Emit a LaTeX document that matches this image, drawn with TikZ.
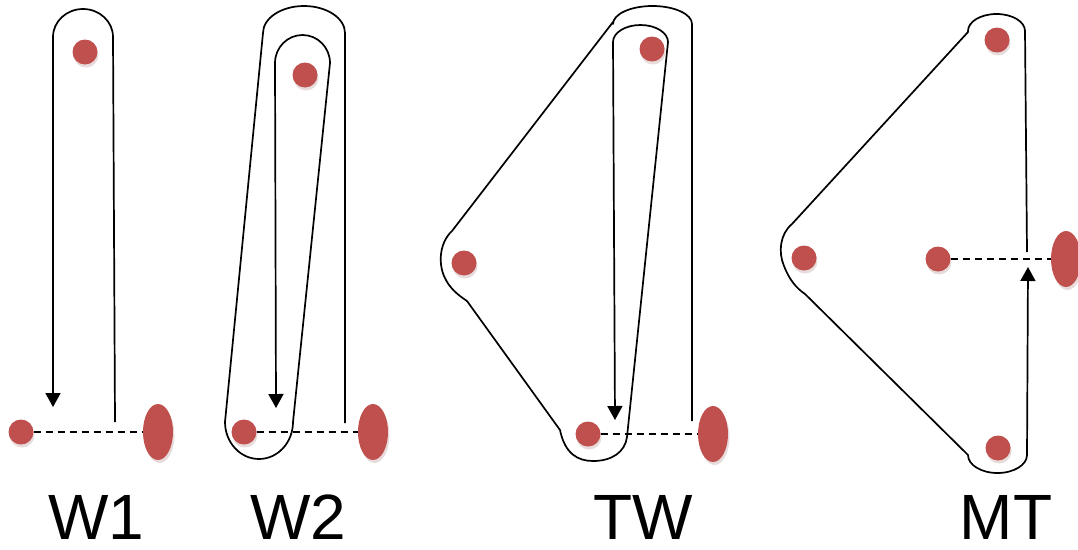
\documentclass[tikz,border=0pt]{standalone}
\usepackage{fontspec}
\setmainfont{Liberation Sans}
\usetikzlibrary{arrows.meta,shapes.geometric,shadows}
\definecolor{dotred}{HTML}{C0504D}
\definecolor{shadowcol}{HTML}{7A3A38}
\tikzset{
  dot/.style={circle, fill=dotred, minimum size=25pt, inner sep=0pt,
    drop shadow={opacity=0.18, shadow xshift=1pt, shadow yshift=-3pt, fill=shadowcol}},
  bigdot/.style={ellipse, fill=dotred, minimum width=30pt, minimum height=56pt, inner sep=0pt,
    drop shadow={opacity=0.18, shadow xshift=1.5pt, shadow yshift=-3pt, fill=shadowcol}},
  hull/.style={draw=black, line width=1.7pt, line join=round},
  arrowpath/.style={hull, -{Triangle[width=15pt,length=14pt]}},
  dashline/.style={draw=black, line width=1.5pt, dash pattern=on 7pt off 5pt},
  lbl/.style={anchor=base, inner sep=0pt, font=\fontsize{64}{68}\selectfont}
}
\begin{document}
\begin{tikzpicture}[x=1pt,y=-1pt]
\useasboundingbox (0,0) rectangle (1078,549);

% ---------------- W1 ----------------
\node[dot] (w1t) at (85,52) {};
\node[dot] (w1b) at (21,432) {};
\node[bigdot] (w1e) at (158,432) {};
\coordinate (w1s) at (115,422);
\coordinate (w1a) at (53,407);
\draw[arrowpath] (w1s) -- (113,37)
  arc[start angle=0, end angle=-180, x radius=30, y radius=28] -- (w1a);
\draw[dashline] (w1b) -- (w1e);
\node[lbl] (lw1) at (96,539) {W1};

% ---------------- W2 ----------------
\node[dot] (w2t) at (305,75) {};
\node[dot] (w2b) at (244,432) {};
\node[bigdot] (w2e) at (373,432) {};
\coordinate (w2s) at (345,423);
\coordinate (w2a) at (276,408);
\draw[arrowpath] (w2s) -- (345,33)
  arc[start angle=0, end angle=-180, x radius=41, y radius=27]
  -- (225,422)
  arc[start angle=180, end angle=0, x radius=34, y radius=37]
  -- (330,63)
  arc[start angle=0, end angle=-180, x radius=27.5, y radius=28]
  -- (w2a);
\draw[dashline] (w2b) -- (w2e);
\node[lbl] (lw2) at (298,539) {W2};

% ---------------- TW ----------------
\node[dot] (twt) at (652,49) {};
\node[dot] (twl) at (464,263) {};
\node[dot] (twb) at (588,434) {};
\node[bigdot] (twe) at (713,434) {};
\coordinate (tws) at (692,421);
\coordinate (twa) at (615,420);
\draw[hull] (tws) -- (692,24)
  arc[start angle=0, end angle=-180, x radius=39.5, y radius=18]
  -- (613,22) -- (452,231)
  .. controls (440,242) and (438,262) .. (444,276)
  .. controls (449,288) and (458,295) .. (467,301)
  -- (560,430)
  .. controls (565,454) and (578,461) .. (593,461)
  .. controls (612,461) and (625,452) .. (627,437)
  -- (668,42)
  arc[start angle=0, end angle=-180, x radius=27.5, y radius=17];
\draw[arrowpath] (613,42) -- (twa);
\draw[dashline] (twb) -- (twe);
\node[lbl] (ltw) at (643,539) {TW};

% ---------------- MT ----------------
\node[dot] (mtt) at (997,40) {};
\node[dot] (mtl) at (804,258) {};
\node[dot] (mtm) at (938,259) {};
\node[dot] (mtb) at (998,448) {};
\node[bigdot] (mte) at (1066,259) {};
\coordinate (mts) at (1027,252);
\coordinate (mta) at (1028,267);
\draw[arrowpath] (mts) -- (1025,31)
  arc[start angle=0, end angle=-180, x radius=28.5, y radius=17]
  -- (968,32) -- (792,224)
  .. controls (780,234) and (778,252) .. (784,266)
  .. controls (789,279) and (796,288) .. (805,294)
  -- (968,455)
  arc[start angle=180, end angle=0, x radius=29.5, y radius=18]
  -- (mta);
\draw[dashline] (mtm) -- (mte);
\node[lbl] (lmt) at (1006,539) {MT};
\end{tikzpicture}
\end{document}
